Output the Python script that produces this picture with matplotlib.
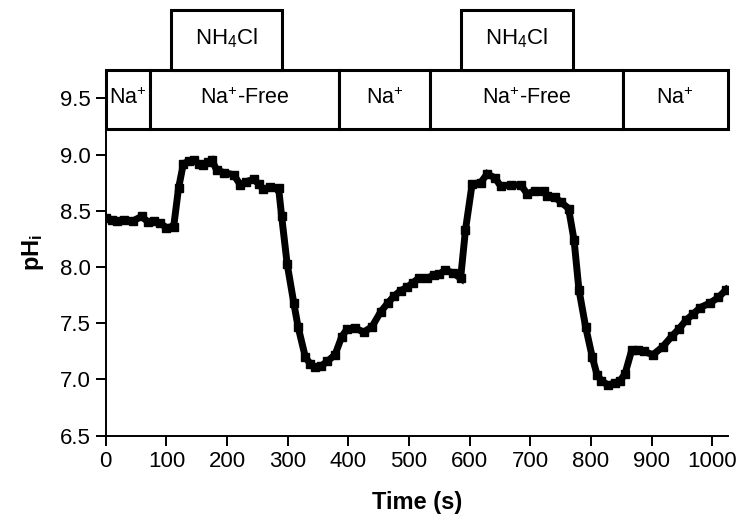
import matplotlib
matplotlib.use('Agg')
import matplotlib.pyplot as plt
from matplotlib.patches import Rectangle

plt.rcParams['font.family'] = ['Liberation Sans', 'DejaVu Sans']
plt.rcParams['mathtext.fontset'] = 'custom'
plt.rcParams['mathtext.rm'] = 'Liberation Sans'
plt.rcParams['mathtext.bf'] = 'Liberation Sans:bold'
plt.rcParams['mathtext.default'] = 'regular'

# trace
time = [0, 10, 18, 30, 45, 59, 70, 80, 90, 100, 112, 120, 128, 137, 145, 153, 161,
        168, 175, 183, 195, 211, 222, 232, 244, 252, 260, 271, 285, 290, 299, 310,
        317, 329, 337, 345, 355, 365, 378, 389, 398, 411, 425, 439, 453, 465, 475,
        486, 497, 506, 516, 530, 541, 550, 560, 572, 585, 593, 604, 618, 629, 642,
        651, 668, 684, 695, 708, 722, 728, 740, 750, 763, 772, 780, 791, 802, 810,
        817, 828, 840, 848, 856, 867, 877, 887, 902, 918, 934, 945, 957, 968, 980,
        996, 1010, 1023]
ph = [8.44, 8.42, 8.41, 8.42, 8.41, 8.45, 8.40, 8.41, 8.39, 8.35, 8.36, 8.70, 8.92,
      8.94, 8.95, 8.92, 8.91, 8.93, 8.95, 8.86, 8.84, 8.82, 8.73, 8.76, 8.78, 8.74,
      8.69, 8.71, 8.70, 8.45, 8.03, 7.68, 7.47, 7.20, 7.14, 7.11, 7.12, 7.16, 7.22,
      7.38, 7.45, 7.46, 7.42, 7.47, 7.60, 7.68, 7.74, 7.79, 7.82, 7.86, 7.90, 7.90,
      7.93, 7.94, 7.97, 7.95, 7.90, 8.33, 8.74, 8.75, 8.83, 8.79, 8.72, 8.73, 8.73,
      8.65, 8.68, 8.68, 8.63, 8.62, 8.58, 8.52, 8.24, 7.80, 7.47, 7.20, 7.04, 6.99,
      6.95, 6.97, 6.99, 7.05, 7.26, 7.26, 7.25, 7.22, 7.29, 7.39, 7.45, 7.53, 7.58,
      7.64, 7.68, 7.73, 7.80]

# solution bars: (start, end, label)
bath_segments = [(0, 73, 'Na$^{+}$'), (73, 385, 'Na$^{+}$-Free'), (385, 535, 'Na$^{+}$'),
                 (535, 852, 'Na$^{+}$-Free'), (852, 1025, 'Na$^{+}$')]
nh4cl_segments = [(107, 291, 'NH$_4$Cl'), (586, 770, 'NH$_4$Cl')]

fig = plt.figure(figsize=(7.42, 5.22), dpi=100)
ax = fig.add_axes([0.1425, 0.1653, 0.838, 0.7006])

ax.plot(time, ph, color='black', lw=5, marker='s', ms=6, solid_joinstyle='miter')

ax.set_xlim(0, 1025)
ax.set_ylim(6.5, 9.752)
ax.set_xticks(range(0, 1001, 100))
ax.set_yticks([6.5, 7.0, 7.5, 8.0, 8.5, 9.0, 9.5])
ax.set_yticklabels(['6.5', '7.0', '7.5', '8.0', '8.5', '9.0', '9.5'])

for s in ['top', 'right']:
    ax.spines[s].set_visible(False)
for s in ['left', 'bottom']:
    ax.spines[s].set_linewidth(1.4)
ax.tick_params(direction='out', length=7, width=1.4, labelsize=16, pad=4)

y0, y1, y2 = 9.227, 9.752, 10.286
for a, b, lab in bath_segments:
    ax.add_patch(Rectangle((a, y0), b - a, y1 - y0, facecolor='white', edgecolor='black',
                           lw=2.2, clip_on=False, zorder=3))
    ax.text((a + b) / 2, (y0 + y1) / 2 + 0.01, lab, ha='center', va='center',
            fontsize=15.5, zorder=4, clip_on=False)
for a, b, lab in nh4cl_segments:
    ax.add_patch(Rectangle((a, y1), b - a, y2 - y1, facecolor='white', edgecolor='black',
                           lw=2.2, clip_on=False, zorder=3))
    ax.text((a + b) / 2, (y1 + y2) / 2 + 0.02, lab, ha='center', va='center',
            fontsize=16, zorder=4, clip_on=False)

ax.set_xlabel('Time (s)', fontsize=17, fontweight='bold', labelpad=14)
ax.set_ylabel(r'pH$_\mathbf{i}$', fontsize=17, fontweight='bold', labelpad=10)

fig.savefig('out.png', dpi=100)
